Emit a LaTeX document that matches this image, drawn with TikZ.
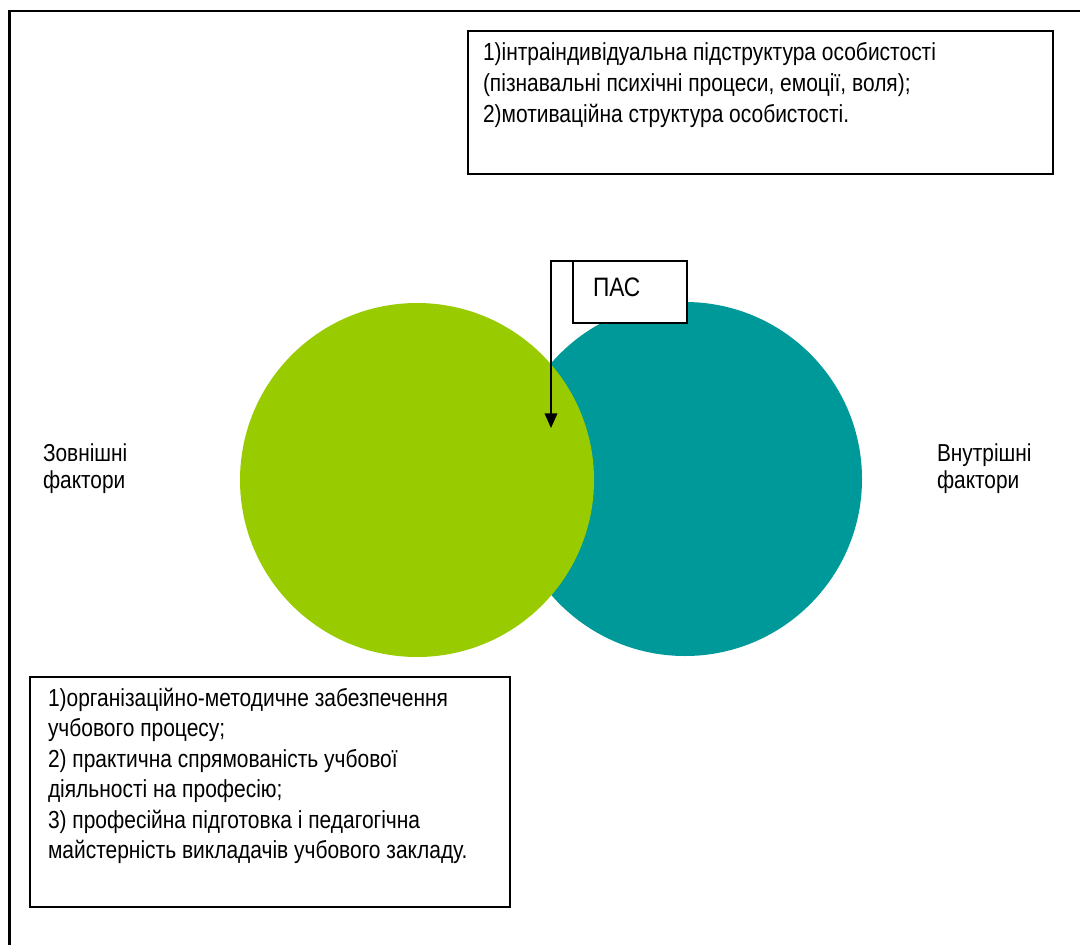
\documentclass[tikz,border=0pt]{standalone}
\usepackage{fontspec}
\setmainfont{Liberation Sans}
\newfontfamily\narrowfont{Liberation Sans}[FakeStretch=0.85]
\usetikzlibrary{arrows.meta}
\definecolor{vgreen}{HTML}{99CC00}
\definecolor{vteal}{HTML}{009999}
\tikzset{
  frameline/.style={line width=1.8pt},
  box/.style={draw, line width=1.15pt, fill=white, inner sep=0pt, outer sep=0pt, anchor=north west},
  txt/.style={inner sep=0pt, outer sep=0pt, anchor=base west, font=\narrowfont\fontsize{18.5}{22.9}\selectfont},
  lbl/.style={inner sep=0pt, outer sep=0pt, anchor=base west, font=\narrowfont\fontsize{18.4}{20.3}\selectfont},
  disc/.style={circle, draw=none, inner sep=0pt, outer sep=0pt, minimum size=354*0.75pt},
  conn/.style={line width=1.2pt, -{Triangle[length=11pt,width=9.5pt]}}
}
\begin{document}
\begin{tikzpicture}[x=0.75pt,y=-0.75pt]
\useasboundingbox (0,0) rectangle (1080,945);
% frame
\coordinate (fbl) at (9.5,945);
\coordinate (ftl) at (9.5,11);
\coordinate (ftr) at (1080,11);
\draw[frameline] (fbl) -- (ftl) -- (ftr);
% circles
\node[disc, fill=vteal] (inner) at (685,479) {};
\node[disc, fill=vgreen] (outer) at (417,480) {};
% top box
\node[box, minimum width=585*0.75pt, minimum height=143*0.75pt] (topbox) at (468,31) {};
\node[txt] (toptext) at (483,61) {\parbox[t]{600pt}{1)інтраіндивідуальна підструктура особистості\\(пізнавальні психічні процеси, емоції, воля);\\2)мотиваційна структура особистості.}};
% bottom box
\node[box, minimum width=480*0.75pt, minimum height=230*0.75pt] (botbox) at (30,677) {};
\node[txt] (bottext) at (48,706) {\parbox[t]{600pt}{1)організаційно-методичне забезпечення\\учбового процесу;\\2) практична спрямованість учбової\\діяльності на професію;\\3) професійна підготовка і педагогічна\\майстерність викладачів учбового закладу.}};
% PAS box
\node[box, minimum width=114*0.75pt, minimum height=62*0.75pt] (pas) at (573,261) {};
\node[txt, font=\narrowfont\fontsize{20}{24}\selectfont] (pastext) at (593,296) {ПАС};
\coordinate (tip) at (551,428);
\draw[conn] (pas.north west) -| (tip);
% side labels
\node[lbl] (ext) at (43,461) {\parbox[t]{200pt}{Зовнішні\\фактори}};
\node[lbl] (int) at (937,461) {\parbox[t]{200pt}{Внутрішні\\фактори}};
\end{tikzpicture}
\end{document}
